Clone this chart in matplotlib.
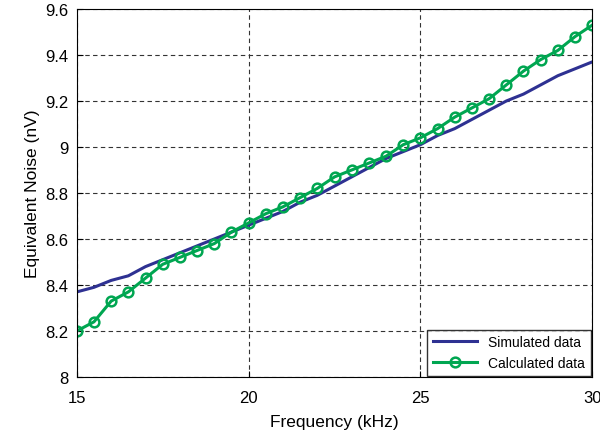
import matplotlib.pyplot as plt
from matplotlib.ticker import FuncFormatter

plt.rcParams['font.family'] = ['Liberation Sans', 'DejaVu Sans']

freq = [15, 15.5, 16, 16.5, 17, 17.5, 18, 18.5, 19, 19.5, 20, 20.5, 21, 21.5, 22, 22.5,
        23, 23.5, 24, 24.5, 25, 25.5, 26, 26.5, 27, 27.5, 28, 28.5, 29, 29.5, 30]
simulated = [8.37, 8.39, 8.42, 8.44, 8.48, 8.51, 8.54, 8.57, 8.60, 8.63, 8.66, 8.69, 8.72,
             8.76, 8.79, 8.83, 8.87, 8.91, 8.95, 8.98, 9.01, 9.05, 9.08, 9.12, 9.16, 9.20,
             9.23, 9.27, 9.31, 9.34, 9.37]
calculated = [8.20, 8.24, 8.33, 8.37, 8.43, 8.49, 8.52, 8.55, 8.58, 8.63, 8.67, 8.71, 8.74,
              8.78, 8.82, 8.87, 8.90, 8.93, 8.96, 9.01, 9.04, 9.08, 9.13, 9.17, 9.21, 9.27,
              9.33, 9.38, 9.42, 9.48, 9.53]

fig = plt.figure(figsize=(6, 4.35), dpi=100)
ax = fig.add_axes([0.128, 0.131, 0.859, 0.846])

ax.plot(freq, simulated, color='#2e3192', lw=2.2, label='Simulated data')
ax.plot(freq, calculated, color='#00a651', lw=2.2, marker='o', ms=7, mew=1.8,
        mfc='none', label='Calculated data')

ax.set_xlim(15, 30)
ax.set_ylim(8, 9.6)
ax.set_xticks([15, 20, 25, 30])
ax.set_yticks([8 + 0.2 * i for i in range(9)])
ax.yaxis.set_major_formatter(FuncFormatter(lambda v, p: f'{v:.1f}'.rstrip('0').rstrip('.')))
ax.grid(True, color='#333333', linestyle=(0, (4, 3)), lw=0.8)
ax.tick_params(direction='in', labelsize=12, length=4)
ax.tick_params(axis='x', pad=9)
ax.tick_params(axis='y', pad=6)

ax.set_xlabel('Frequency (kHz)', fontsize=12.5, labelpad=7)
ax.set_ylabel('Equivalent Noise (nV)', fontsize=12.5, labelpad=4)

leg = ax.legend(loc='lower right', fontsize=10, frameon=True, fancybox=False,
                borderaxespad=0.1, handlelength=3.2, edgecolor='black')
leg.get_frame().set_linewidth(1.0)

fig.savefig('out.png', dpi=100)
